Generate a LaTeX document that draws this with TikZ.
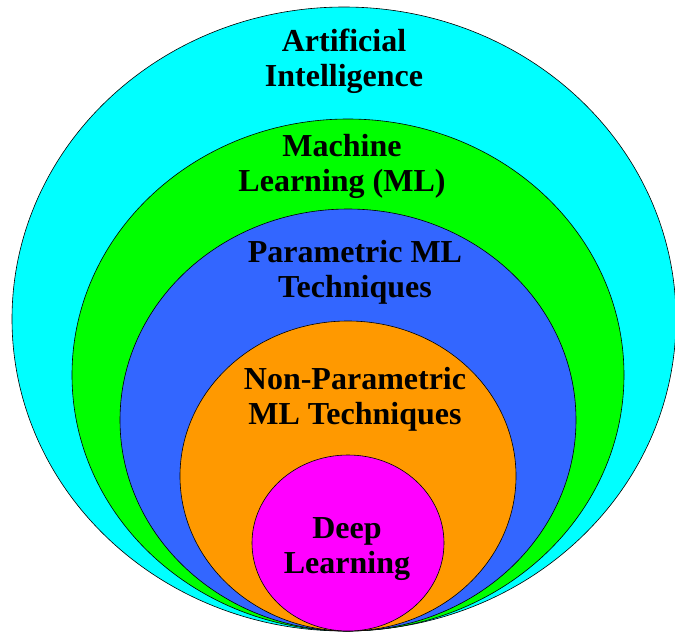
\documentclass[tikz,border=0pt]{standalone}
\usepackage{fontspec}
\setmainfont{Liberation Serif}
\usetikzlibrary{shapes.geometric}

\definecolor{aicyan}{HTML}{00FFFF}
\definecolor{mlgreen}{HTML}{00FF00}
\definecolor{parblue}{HTML}{3366FF}
\definecolor{nporange}{HTML}{FF9900}
\definecolor{dlmagenta}{HTML}{FF00FF}

\tikzset{
  field/.style={ellipse, draw=black, line width=0.6pt, inner sep=0pt, outer sep=0pt},
  % anchor=base sits on the baseline of the last line
  fieldname/.style={align=center, anchor=base, inner sep=0pt,
    font=\bfseries\fontsize{32}{35}\selectfont}
}

\begin{document}
\begin{tikzpicture}[x=1pt, y=-1pt]
  \useasboundingbox (0,0) rectangle (675,632);

  % nested fields, outermost first, all touching at the bottom
  \node[field, fill=aicyan,    minimum width=664pt, minimum height=624pt] (ai)  at (344,319) {};
  \node[field, fill=mlgreen,   minimum width=552pt, minimum height=512pt] (ml)  at (348,375) {};
  \node[field, fill=parblue,   minimum width=456pt, minimum height=422pt] (pml) at (348,420) {};
  \node[field, fill=nporange,  minimum width=336pt, minimum height=310pt] (npm) at (348,476) {};
  \node[field, fill=dlmagenta, minimum width=192pt, minimum height=176pt] (dl)  at (348,543) {};

  % labels
  \node[fieldname] (tai)  at (344,86)  {Artificial\\Intelligence};
  \node[fieldname] (tml)  at (342,191) {Machine\\Learning (ML)};
  \node[fieldname] (tpml) at (355,297) {Parametric ML\\Techniques};
  \node[fieldname] (tnpm) at (355,424) {Non-Parametric\\ML Techniques};
  \node[fieldname] (tdl)  at (347,573) {Deep\\Learning};
\end{tikzpicture}
\end{document}
